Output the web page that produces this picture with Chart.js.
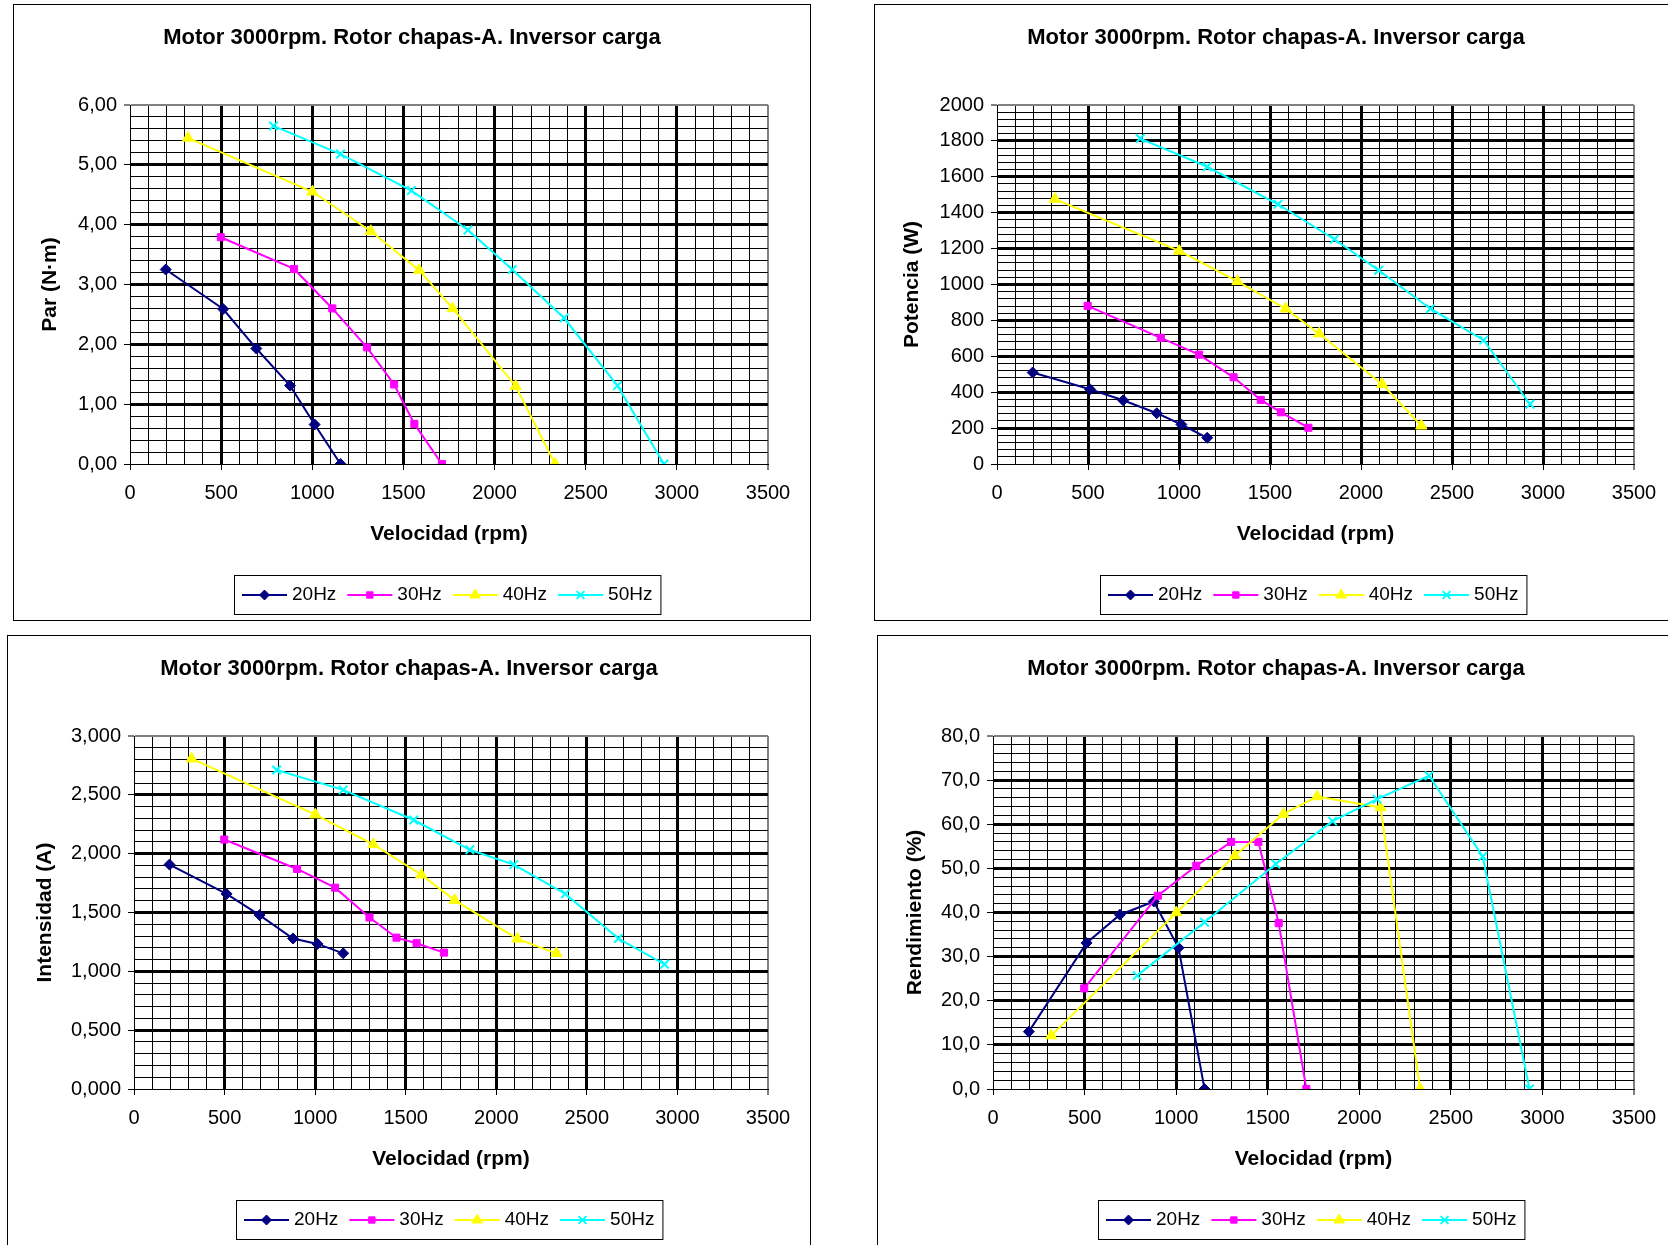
<!DOCTYPE html>
<html>
<head>
<meta charset="utf-8">
<script src="https://cdn.jsdelivr.net/npm/chart.js@4.4.1/dist/chart.umd.min.js"></script>
<style>
html, body { margin: 0; padding: 0; background: #fff; overflow: hidden; width: 1668px; height: 1245px; }
.caja { position: absolute; border: 1px solid #000; box-sizing: border-box; background: #fff; }
</style>
</head>
<body>
<div class="caja" id="b1"><canvas id="c1"></canvas></div>
<div class="caja" id="b2"><canvas id="c2"></canvas></div>
<div class="caja" id="b3"><canvas id="c3"></canvas></div>
<div class="caja" id="b4"><canvas id="c4"></canvas></div>
<script>
const titulo = 'Motor 3000rpm. Rotor chapas-A. Inversor carga';
const series = ['20Hz', '30Hz', '40Hz', '50Hz'];

// velocidad (rpm) de cada ensayo
const rpm20 = [196, 511, 693, 878, 1013, 1155];
const rpm30 = [498, 900, 1110, 1300, 1449, 1560, 1711];
const rpm40 = [318, 1001, 1321, 1586, 1770, 2116, 2332];
const rpm50 = [787, 1155, 1544, 1854, 2097, 2381, 2674, 2929];

// par (N·m)
const par20 = [3.25, 2.59, 1.93, 1.31, 0.66, 0];
const par30 = [3.79, 3.26, 2.60, 1.95, 1.33, 0.67, 0];
const par40 = [5.45, 4.55, 3.89, 3.24, 2.60, 1.30, 0];
const par50 = [5.65, 5.18, 4.57, 3.91, 3.25, 2.44, 1.31, 0];

// potencia (W)
const pot20 = [510, 416, 355, 283, 220, 146];
const pot30 = [881, 703, 609, 483, 357, 288, 202];
const pot40 = [1476, 1187, 1018, 865, 726, 445, 213];
const pot50 = [1813, 1656, 1447, 1252, 1079, 865, 690, 333];

// intensidad (A)
const int20 = [1.907, 1.658, 1.478, 1.279, 1.233, 1.153];
const int30 = [2.120, 1.870, 1.711, 1.458, 1.286, 1.239, 1.159];
const int40 = [2.807, 2.332, 2.080, 1.821, 1.605, 1.276, 1.153];
const int50 = [2.711, 2.542, 2.286, 2.033, 1.907, 1.658, 1.279, 1.060];

// rendimiento (%)
const ren20 = [13.0, 33.1, 39.5, 42.5, 32.0, 0];
const ren30 = [22.8, 43.8, 50.6, 56.0, 56.0, 37.6, 0];
const ren40 = [12.1, 40.0, 52.9, 62.3, 66.3, 63.8, 0];
const ren50 = [25.7, 37.8, 51.0, 60.7, 65.7, 71.0, 52.7, 0];

// ejes
const xMax = 3500, xPaso = 100, xMayor = 500;

const rpms = [rpm20, rpm30, rpm40, rpm50];
const colores = ['#000080', '#FF00FF', '#FFFF00', '#00FFFF'];
const marcas = ['rectRot', 'rect', 'triangle', 'crossRot'];
const radios = [5.5, 5, 6.5, 6];

const FUENTE = '"Liberation Sans", Arial, Helvetica, sans-serif';
Chart.defaults.font.family = FUENTE;
Chart.defaults.color = '#000';

function esMayor(v, m) {
    return Math.abs(v / m - Math.round(v / m)) < 1e-6;
}

function pts(xs, ys) {
    return xs.map((x, i) => ({ x: x, y: ys[i] }));
}

function rejilla(mayor, max) {
    return {
        color: c => (c.tick && Math.abs(c.tick.value - max) < 1e-9) ? '#808080' : '#000',
        lineWidth: c => {
            const v = c.tick ? c.tick.value : 0;
            if (Math.abs(v - max) < 1e-9) return 2;
            if (v === 0) return 1;
            return esMayor(v, mayor) ? 3 : 1;
        },
        tickColor: c => (c.tick && esMayor(c.tick.value, mayor)) ? '#000' : 'rgba(0,0,0,0)',
        tickWidth: 1,
        tickLength: 6,
        drawTicks: true
    };
}

// leyenda con recuadro, linea y marca (estilo Excel)
const leyenda = {
    id: 'leyenda',
    afterDraw(chart) {
        const ctx = chart.ctx, a = chart.chartArea;
        const sets = chart.data.datasets;
        ctx.save();
        ctx.font = '19px ' + FUENTE;
        const lineW = 45, gap = 5, sep = 11, pad = 8, h = 39;
        let total = pad * 2;
        sets.forEach((d, i) => {
            total += lineW + gap + ctx.measureText(d.label).width + (i < sets.length - 1 ? sep : 0);
        });
        const x0 = Math.round((a.left + a.right) / 2 - total / 2) - 2;
        const y0 = Math.round(a.bottom + 111);
        ctx.fillStyle = '#fff';
        ctx.fillRect(x0, y0, total, h);
        ctx.strokeStyle = '#000';
        ctx.lineWidth = 1;
        ctx.strokeRect(x0 + 0.5, y0 + 0.5, total, h);
        let cx = x0 + pad;
        const cy = y0 + h / 2 + 0.5;
        sets.forEach(d => {
            ctx.strokeStyle = d.borderColor;
            ctx.lineWidth = 2;
            ctx.beginPath();
            ctx.moveTo(cx, cy);
            ctx.lineTo(cx + lineW, cy);
            ctx.stroke();
            ctx.fillStyle = d.backgroundColor;
            ctx.lineWidth = d.pointBorderWidth;
            Chart.helpers.drawPoint(ctx, { pointStyle: d.pointStyle, radius: d.pointRadius - 0.5, rotation: 0, borderWidth: d.pointBorderWidth }, cx + lineW / 2, cy);
            cx += lineW + gap;
            ctx.fillStyle = '#000';
            ctx.textBaseline = 'middle';
            ctx.textAlign = 'left';
            ctx.fillText(d.label, cx, cy);
            cx += ctx.measureText(d.label).width + sep;
        });
        ctx.restore();
    }
};

// el titulo va centrado en todo el recuadro, no en el area del grafico
const centrarTitulo = {
    id: 'centrarTitulo',
    afterLayout(chart) {
        const t = chart.titleBlock;
        if (t) { t.left = 0; t.right = chart.width; }
    }
};

function grafico(id, caja, area, yTitulo, yTituloX, yMax, yPaso, yMayor, fmt, datos) {
    const div = document.getElementById('b' + id);
    div.style.left = caja.x + 'px';
    div.style.top = caja.y + 'px';
    div.style.width = caja.w + 'px';
    div.style.height = caja.h + 'px';
    const W = caja.w - 2, H = caja.h - 2;
    const ox = caja.x + 1, oy = caja.y + 1;
    const pL = area.l - ox, pT = area.t - oy, pR = area.r - ox, pB = area.b - oy;

    new Chart(document.getElementById('c' + id), {
        type: 'line',
        data: {
            datasets: datos.map((ys, i) => ({
                label: series[i],
                data: pts(rpms[i], ys),
                borderColor: colores[i],
                backgroundColor: colores[i],
                pointStyle: marcas[i],
                pointRadius: radios[i],
                pointHoverRadius: radios[i],
                pointBorderWidth: i === 3 ? 2 : 1,
                borderWidth: 2,
                tension: 0,
                fill: false,
                order: 3 - i
            }))
        },
        options: {
            responsive: true,
            maintainAspectRatio: false,
            animation: false,
            events: [],
            layout: { padding: { left: 0, top: 0, right: W - pR, bottom: 0 } },
            plugins: {
                legend: { display: false },
                tooltip: { enabled: false },
                title: {
                    display: true,
                    text: titulo,
                    color: '#000',
                    font: { size: 22, weight: 'bold' },
                    padding: { top: 33 - 13.2, bottom: pT - 33 - 13.2 }
                }
            },
            scales: {
                x: {
                    type: 'linear',
                    min: 0,
                    max: xMax,
                    ticks: {
                        stepSize: xPaso,
                        autoSkip: false,
                        maxRotation: 0,
                        padding: 11,
                        color: '#000',
                        font: { size: 20 },
                        callback: v => esMayor(v, xMayor) ? String(v) : ''
                    },
                    grid: rejilla(xMayor, xMax),
                    border: { display: true, color: '#000', width: 1 },
                    title: {
                        display: true,
                        text: 'Velocidad (rpm)',
                        color: '#000',
                        font: { size: 21, weight: 'bold' },
                        padding: { top: 0, bottom: H - pB - 70 - 12.6 }
                    },
                    afterFit: s => { s.height = H - pB; }
                },
                y: {
                    type: 'linear',
                    min: 0,
                    max: yMax,
                    ticks: {
                        stepSize: yPaso,
                        autoSkip: false,
                        padding: 7,
                        color: '#000',
                        font: { size: 20 },
                        callback: v => esMayor(v, yMayor) ? fmt(v) : ''
                    },
                    grid: rejilla(yMayor, yMax),
                    border: { display: true, color: '#000', width: 1 },
                    title: {
                        display: true,
                        text: yTitulo,
                        color: '#000',
                        font: { size: 21, weight: 'bold' },
                        padding: { top: yTituloX - 12.6, bottom: 0 }
                    },
                    afterFit: s => { s.width = pL; }
                }
            }
        },
        plugins: [leyenda, centrarTitulo]
    });
}

const coma = d => v => v.toFixed(d).replace('.', ',');

grafico(1, { x: 13, y: 4, w: 798, h: 617 }, { l: 130, t: 105, r: 768, b: 464 },
    'Par (N·m)', 36, 6, 0.2, 1, coma(2), [par20, par30, par40, par50]);
grafico(2, { x: 874, y: 4, w: 804, h: 617 }, { l: 997, t: 105, r: 1634, b: 464 },
    'Potencia (W)', 37, 2000, 40, 200, v => String(Math.round(v)), [pot20, pot30, pot40, pot50]);
grafico(3, { x: 7, y: 635, w: 804, h: 630 }, { l: 134, t: 736, r: 768, b: 1089 },
    'Intensidad (A)', 37, 3, 0.1, 0.5, coma(3), [int20, int30, int40, int50]);
grafico(4, { x: 877, y: 635, w: 798, h: 630 }, { l: 993, t: 736, r: 1634, b: 1089 },
    'Rendimiento (%)', 37, 80, 2, 10, coma(1), [ren20, ren30, ren40, ren50]);
</script>
</body>
</html>
